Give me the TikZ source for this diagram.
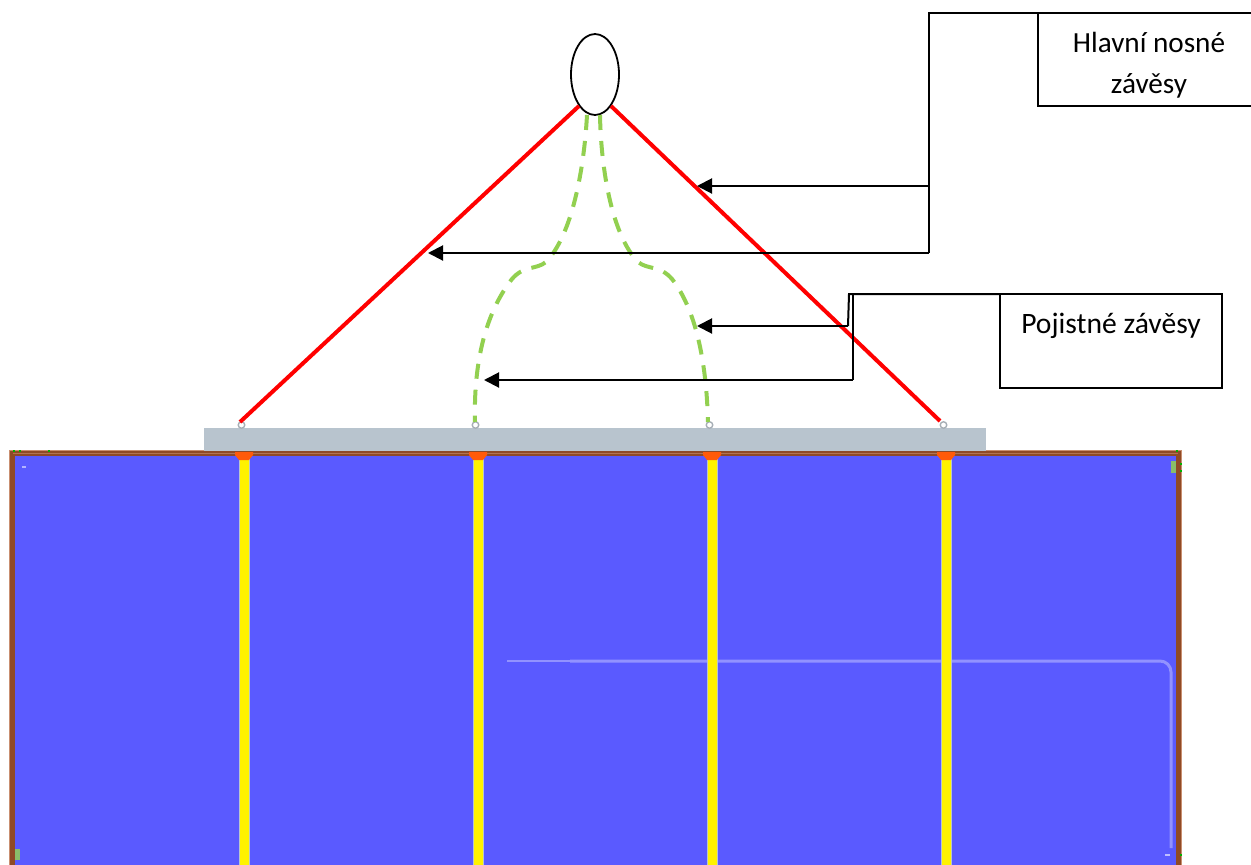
\documentclass[tikz,border=0pt]{standalone}
\usepackage{fontspec}
\setmainfont{Carlito}
\usetikzlibrary{arrows.meta,shapes.geometric}
\definecolor{brownframe}{HTML}{8F4A26}
\definecolor{brownlight}{HTML}{C98F70}
\definecolor{panelblue}{HTML}{5A5AFF}
\definecolor{beamgray}{HTML}{B8C4CE}
\definecolor{sgreen}{HTML}{92D050}
\definecolor{capor}{HTML}{FF5A0A}
\definecolor{glint}{HTML}{9292FF}
\tikzset{
  x=1pt,y=-1pt,
  callout/.style={draw=black,line width=2pt,inner sep=0,outer sep=0,align=center},
  leader/.style={draw=black,line width=2pt,-{Triangle[length=15pt,width=15pt]},line join=miter},
  plainleader/.style={draw=black,line width=2pt},
  mainsling/.style={draw=red,line width=4pt},
  safesling/.style={draw=sgreen,line width=4pt,dash pattern=on 15pt off 11pt},
  strut/.style={fill=yellow,draw=beamgray,line width=.6pt},
  capshape/.style={fill=capor,draw=none},
  eye/.style={circle,draw=beamgray!70!gray,fill=white,line width=1.4pt,inner sep=0,minimum size=6.5pt},
  speck/.style={fill=sgreen,draw=none},
}
\begin{document}
\begin{tikzpicture}
\useasboundingbox (0,0) rectangle (1251,865);
\fill[white] (0,0) rectangle (1251,865);
% panel
\fill[brownframe] (8.5,449.5) rectangle (1182,865);
\fill[brownlight] (8.5,449.5) rectangle (1182,450.7);
\fill[brownlight] (8.5,449.5) rectangle (9.7,865);
\fill[brownlight] (1180.8,449.5) rectangle (1182,865);
\fill[brownlight!60!brownframe] (13,452.5) rectangle (1178,453.3);
\fill[panelblue] (15,456) rectangle (1176,865);
% glints
\draw[glint,line width=1.5pt] (507,661) -- (570,661);
\draw[glint,line width=3pt,rounded corners=11pt] (570,661) -- (1171,661) -- (1171,848);
\fill[glint!70!white] (22,466) rectangle (26,468);
\fill[speck,opacity=.85] (1171,461) rectangle (1176,473);
\fill[speck,opacity=.85] (15,849) rectangle (20,860);
\fill[glint!60!white] (1165,854) rectangle (1170,856);
% green specks
\foreach \p in {(13,450),(19,450),(48,450),(1176,450),(1180,463),(1180,470),(1180,854)}
  \fill[green!70!black] \p rectangle ++(1.5,1.5);
% struts
\foreach \c/\n in {244/a,478/b,712/c,946/d}{
  \draw[strut] (\c-5,458) rectangle (\c+5,865);
  \fill[capshape] (\c-9,452) -- (\c+9,452) -- (\c+9,455) -- (\c+5,460) -- (\c-5,460) -- (\c-9,455) -- cycle;
}
% beam
\node[fill=beamgray,draw=none,minimum width=782pt,minimum height=23pt,inner sep=0,outer sep=0,anchor=north west] (beam) at (204,428) {};
% eyes
\node[eye] (e1) at (241.5,425) {};
\node[eye] (e2) at (475.5,425) {};
\node[eye] (e3) at (709.5,425) {};
\node[eye] (e4) at (943.5,425) {};
% hook
\node[ellipse,draw=black,line width=1.8pt,fill=white,minimum width=48pt,minimum height=81pt,inner sep=0] (hook) at (595,74.5) {};
% main slings
\coordinate (hl) at (579,106);
\coordinate (hr) at (611,106);
\coordinate (el) at (240,422);
\coordinate (er) at (940,421);
\draw[mainsling] (hl) -- (el);
\draw[mainsling] (hr) -- (er);
% safety slings
\coordinate (gl) at (587,115);
\coordinate (gr) at (600,115);
\draw[safesling] (gl) .. controls (584,170) and (572,235) .. (546,262)
  .. controls (536,270) and (524,265) .. (512,279)
  .. controls (494,302) and (473,345) .. (475,422);
\draw[safesling] (gr) .. controls (601,170) and (612,235) .. (638,262)
  .. controls (648,270) and (660,265) .. (672,279)
  .. controls (690,302) and (706,345) .. (708,422);
% boxes
\node[callout,minimum width=214pt,minimum height=93pt,anchor=north west] (b1) at (1038,13) {};
\node[inner sep=0,font=\fontsize{29.2}{29}\selectfont] (t1a) at (1149,42) {Hlavní nosné};
\node[inner sep=0,font=\fontsize{29.2}{29}\selectfont] (t1b) at (1149,85.5) {závěsy};
\node[callout,minimum width=222pt,minimum height=94pt,anchor=north west] (b2) at (1000,294) {};
\node[inner sep=0,font=\fontsize{29.6}{29}\selectfont] (t2) at (1111,326) {Pojistné závěsy};
% leaders
\coordinate (j1) at (929,13);
\coordinate (j2) at (929,186);
\coordinate (j3) at (929,253);
\coordinate (a1) at (697,186);
\coordinate (a2) at (428,253);
\draw[plainleader] (b1.north west) -- (j1) -- (j3);
\draw[leader] (j2) -- (a1);
\draw[leader] (j3) -- (a2);
\coordinate (k1) at (849,294);
\coordinate (k2) at (848,326);
\coordinate (k3) at (853,294);
\coordinate (k4) at (853,380);
\coordinate (a3) at (697,326);
\coordinate (a4) at (484,380);
\draw[plainleader] (b2.north west) -- (k1) -- (k2);
\draw[leader] (k2) -- (a3);
\draw[plainleader] (k3) -- (k4);
\draw[leader] (k4) -- (a4);
\end{tikzpicture}
\end{document}
